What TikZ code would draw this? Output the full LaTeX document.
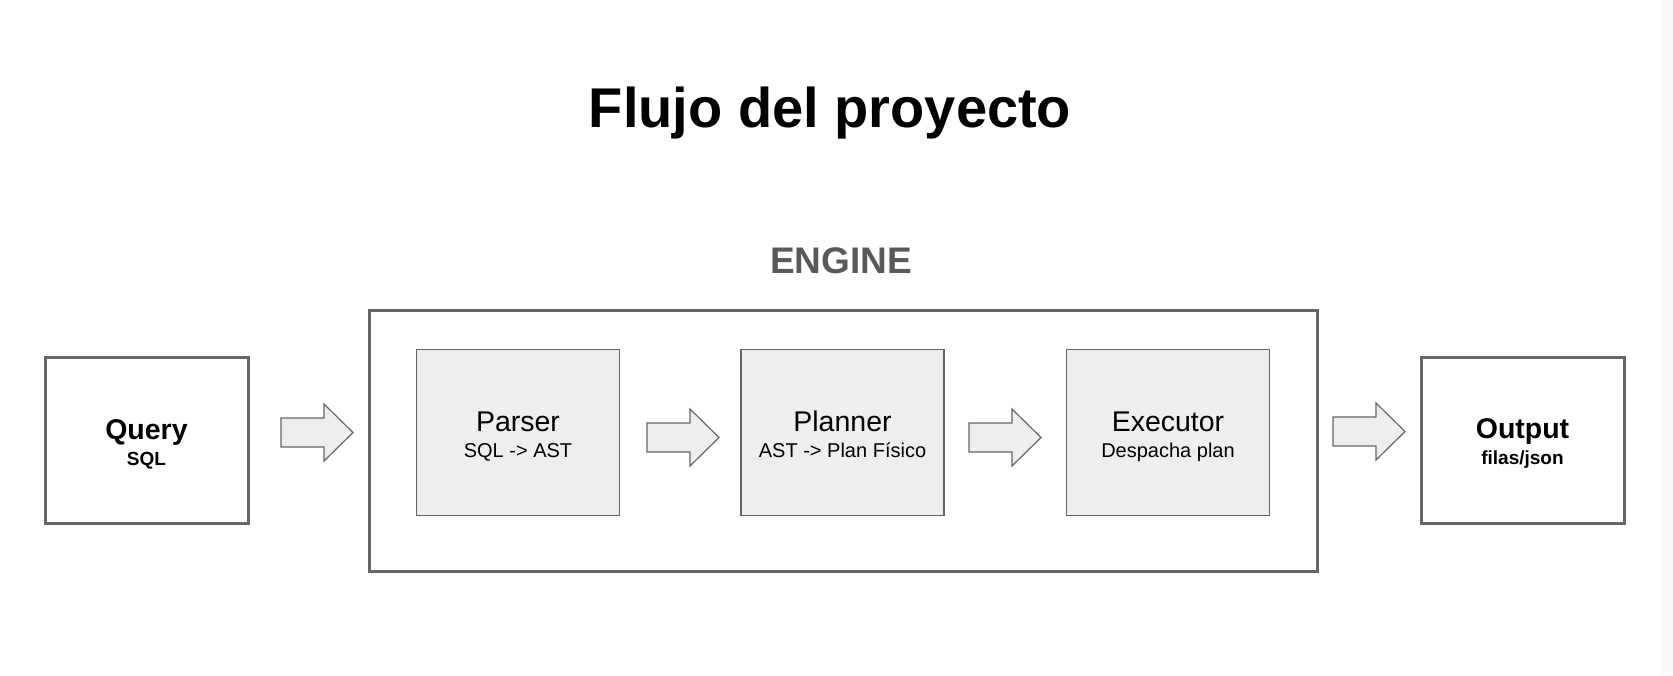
\documentclass[tikz,border=0pt]{standalone}
\usepackage{fontspec}
\setmainfont{Liberation Sans}
\definecolor{edge}{HTML}{666666}
\definecolor{boxfill}{HTML}{EEEEEE}
\definecolor{enginetxt}{HTML}{595959}
\definecolor{strip}{HTML}{F8F9FA}
\tikzset{
  outerbox/.style={draw=edge, line width=3pt, fill=white, inner sep=0pt},
  innerbox/.style={draw=edge, line width=1.4pt, fill=boxfill, inner sep=0pt, minimum width=203pt, minimum height=166pt},
  blk/.style={draw=edge, line width=1.2pt, fill=boxfill, line join=miter},
  txt/.style={inner sep=0pt, anchor=base},
  titletxt/.style={txt, font=\fontsize{56pt}{60pt}\selectfont\bfseries},
  enginelbl/.style={txt, text=enginetxt, font=\fontsize{37pt}{40pt}\selectfont\bfseries},
  boldmain/.style={txt, font=\fontsize{28.5pt}{30pt}\selectfont\bfseries},
  boldsub/.style={txt, font=\fontsize{19pt}{21pt}\selectfont\bfseries},
  mainlbl/.style={txt, font=\fontsize{28.5pt}{30pt}\selectfont},
  sublbl/.style={txt, font=\fontsize{20pt}{22pt}\selectfont}
}
\newcommand\blockarrow[2]{%
  \draw[blk] (#1,#2) ++(0,-14.5) -- ++(43,0) -- ++(0,-14) -- ++(29,28.5)
    -- ++(-29,28.5) -- ++(0,-14) -- ++(-43,0) -- cycle;}
\begin{document}
\begin{tikzpicture}[x=1pt, y=-1pt]
  \useasboundingbox (0,0) rectangle (1673,675);
  \fill[white] (0,0) rectangle (1673,675);
  \fill[strip] (1661,0) rectangle (1673,675);

  \node[titletxt] (title) at (830,127) {Flujo del proyecto};
  \node[enginelbl] (enginelabel) at (841,273) {ENGINE};

  \node[outerbox, minimum width=948pt, minimum height=261pt] (engine) at (843.5,440.5) {};

  \node[outerbox, minimum width=203pt, minimum height=166pt] (query) at (146.5,440) {};
  \node[boldmain] (querytxt) at (146.5,439) {Query};
  \node[boldsub] (querysub) at (146.5,465) {SQL};

  \node[outerbox, minimum width=203pt, minimum height=166pt] (output) at (1522.5,440) {};
  \node[boldmain] (outputtxt) at (1522.5,438) {Output};
  \node[boldsub] (outputsub) at (1522.5,464) {filas/json};

  \node[innerbox] (parser) at (518,432.5) {};
  \node[mainlbl] (parsertxt) at (518,431) {Parser};
  \node[sublbl] (parsersub) at (518,457) {SQL -> AST};

  \node[innerbox] (planner) at (842.5,432.5) {};
  \node[mainlbl] (plannertxt) at (842.5,431) {Planner};
  \node[sublbl] (plannersub) at (842.5,457) {AST -> Plan Físico};

  \node[innerbox] (executor) at (1168,432.5) {};
  \node[mainlbl] (executortxt) at (1168,431) {Executor};
  \node[sublbl] (executorsub) at (1168,457) {Despacha plan};

  \blockarrow{281}{432.5}
  \blockarrow{647}{437.5}
  \blockarrow{969}{437.5}
  \blockarrow{1333}{431.5}
\end{tikzpicture}
\end{document}
